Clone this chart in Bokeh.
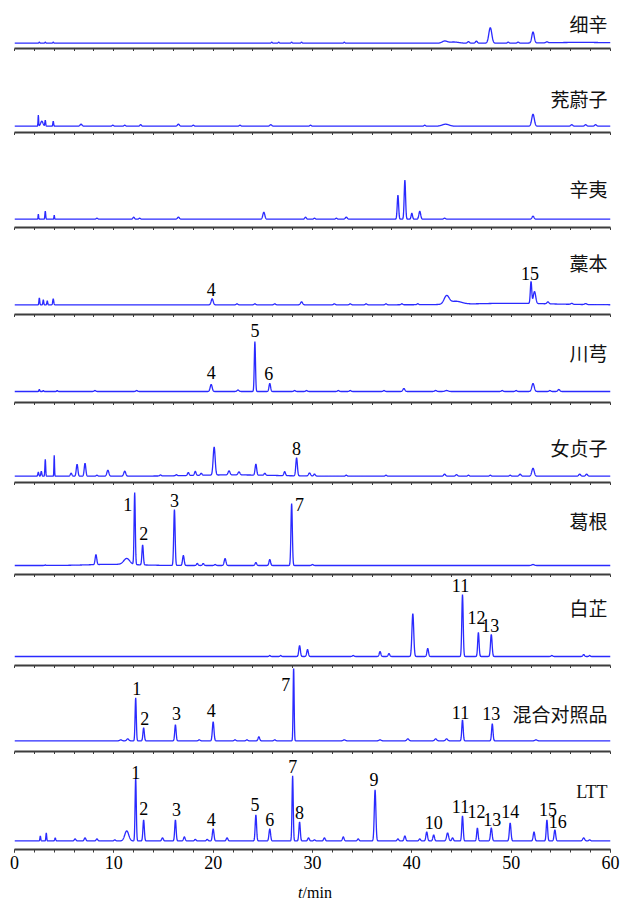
import numpy as np
from bokeh.plotting import figure
from bokeh.layouts import column
from bokeh.models import Range1d, FixedTicker, ColumnDataSource, Label
from bokeh.core.properties import value
from bokeh.embed import file_html
from bokeh.resources import INLINE

# ---------------- data ----------------
names = ["细辛", "茺蔚子", "辛夷", "藁本", "川芎", "女贞子", "葛根", "白芷", "混合对照品", "LTT"]

xixin_rt = [2.5, 3.1, 3.9, 25.9, 26.6, 27.9, 28.9, 33.2, 43.3, 44.2, 45.7, 46.5, 47.9, 49.7, 50.7, 52.2, 53.6, 57.0]
xixin_h = [1, 1, 1, 1, 1, 1, 1, 1, 2, 1.2, 1.5, 2, 15.5, 1, 1, 11, 1, 0.8]
xixin_w = [0.05, 0.05, 0.05, 0.06, 0.06, 0.06, 0.06, 0.06, 0.25, 0.5, 0.1, 0.1, 0.15, 0.08, 0.08, 0.12, 0.1, 3.0]

cwz_rt = [2.4, 2.75, 3.1, 3.9, 6.7, 9.9, 11.1, 12.7, 16.5, 18.0, 22.7, 25.8, 29.8, 41.3, 43.4, 52.2, 56.1, 57.5, 58.5]
cwz_h = [11, 5, 6, 5, 2, 1, 1, 1.5, 2, 1, 1, 1.5, 1, 1, 2, 12, 1.5, 1.5, 1.5]
cwz_w = [0.03, 0.12, 0.04, 0.04, 0.1, 0.08, 0.08, 0.08, 0.1, 0.08, 0.08, 0.1, 0.08, 0.08, 0.35, 0.13, 0.1, 0.1, 0.1]

xinyi_rt = [2.4, 3.1, 4.0, 8.3, 12.0, 12.6, 16.5, 25.1, 29.3, 30.2, 32.4, 33.4, 38.6, 39.3, 40.0, 40.8, 43.3, 52.2]
xinyi_h = [5, 8, 4, 1, 2, 1, 2, 7, 2, 1, 1, 2, 24, 39, 6, 8, 1, 3]
xinyi_w = [0.03, 0.04, 0.03, 0.08, 0.08, 0.08, 0.1, 0.1, 0.08, 0.08, 0.08, 0.1, 0.07, 0.07, 0.07, 0.09, 0.1, 0.1]

gaoben_rt = [2.5, 2.9, 3.3, 3.9, 19.9, 22.4, 24.2, 26.2, 28.9, 32.2, 33.8, 35.4, 37.4, 39.0, 40.6, 43.5, 44.4, 50.0, 52.0, 52.35, 53.7, 56.1, 57.5]
gaoben_h = [7, 5, 4, 6, 6, 1, 1, 1, 3, 1, 1, 1, 1, 1, 1, 8, 3, 1.5, 22, 12, 2, 1, 1]
gaoben_w = [0.04, 0.04, 0.04, 0.05, 0.1, 0.08, 0.08, 0.08, 0.1, 0.08, 0.08, 0.08, 0.08, 0.08, 0.08, 0.25, 0.6, 4.0, 0.07, 0.12, 0.1, 0.1, 0.1]

cx_rt = [2.5, 2.9, 4.3, 8.1, 12.3, 19.8, 22.5, 24.2, 25.7, 28.2, 29.4, 32.6, 33.8, 37.2, 39.2, 42.4, 43.5, 49.1, 50.5, 52.2, 53.9, 54.8]
cx_h = [2, 1, 1, 1, 1, 7, 1.5, 50, 8, 1, 1, 1, 1, 1, 3, 1, 1, 1, 1, 8, 1, 2]
cx_w = [0.04, 0.04, 0.05, 0.08, 0.08, 0.1, 0.1, 0.06, 0.08, 0.08, 0.08, 0.08, 0.08, 0.08, 0.1, 0.1, 0.15, 0.08, 0.08, 0.12, 0.08, 0.1]

nzz_rt = [2.4, 2.7, 3.1, 4.0, 5.7, 6.3, 7.1, 8.3, 9.4, 11.1, 14.7, 16.3, 17.5, 18.2, 18.8, 20.1, 21.6, 22.6, 24.3, 25.2,
          27.2, 28.4, 29.7, 30.2, 33.4, 37.4, 43.3, 44.5, 45.7, 47.9, 49.9, 50.9, 52.2, 56.9, 57.6, 22.0]
nzz_h = [4, 5, 17, 21, 3, 12, 13, 1, 6, 5, 1, 1, 3, 4, 2, 28, 4, 3, 11, 2,
         4, 18, 3, 2, 1, 1, 2, 1.5, 1, 1, 1, 2, 8, 2, 2, 1.3]
nzz_w = [0.05, 0.05, 0.04, 0.03, 0.08, 0.08, 0.08, 0.08, 0.1, 0.1, 0.08, 0.08, 0.08, 0.08, 0.08, 0.1, 0.1, 0.1, 0.08, 0.08,
         0.08, 0.08, 0.1, 0.08, 0.08, 0.08, 0.1, 0.1, 0.08, 0.08, 0.08, 0.1, 0.12, 0.1, 0.1, 4.0]

gg_rt = [3.1, 8.2, 10.0, 11.3, 12.1, 12.9, 16.1, 17.0, 18.4, 19.0, 20.2, 21.2, 24.3, 25.7, 27.9, 30.0, 52.2]
gg_h = [0.5, 10, 1.2, 6, 72, 20, 56, 10, 2, 2, 1, 7, 3, 6, 62, 1, 1]
gg_w = [0.05, 0.08, 2.5, 0.3, 0.06, 0.07, 0.07, 0.08, 0.08, 0.08, 0.08, 0.09, 0.08, 0.08, 0.07, 0.08, 0.12]

bz_rt = [25.7, 26.8, 28.7, 29.5, 34.1, 36.8, 37.7, 40.1, 41.6, 45.1, 46.7, 48.0, 54.1, 57.3, 57.9]
bz_h = [1, 1, 11, 7, 1, 5, 3, 43, 8, 62, 24, 22, 1, 2, 1]
bz_w = [0.06, 0.06, 0.08, 0.08, 0.08, 0.08, 0.08, 0.09, 0.08, 0.07, 0.07, 0.08, 0.08, 0.08, 0.06]

mix_rt = [10.7, 11.4, 12.2, 13.0, 16.2, 18.6, 20.0, 22.2, 23.4, 24.6, 26.2, 28.1, 33.2, 36.8, 39.6, 42.4, 43.5, 45.1, 48.1, 52.5]
mix_h = [1, 2, 43, 13, 16, 1, 19, 1, 1, 4, 1, 74, 1, 1, 2, 2, 2, 21, 17, 1]
mix_w = [0.1, 0.1, 0.06, 0.07, 0.07, 0.08, 0.08, 0.08, 0.08, 0.08, 0.08, 0.05, 0.1, 0.1, 0.1, 0.1, 0.1, 0.07, 0.07, 0.1]

ltt_rt = [2.6, 3.2, 4.1, 6.1, 7.1, 8.3, 10.1, 11.3, 12.2, 13.0, 14.9, 16.2, 17.1, 18.2, 19.4, 20.0, 21.4, 24.3, 25.7, 28.0,
          28.7, 29.6, 30.2, 31.2, 33.1, 34.6, 36.3, 38.6, 39.3, 40.8, 41.5, 42.2, 43.6, 44.1, 45.1, 46.6, 48.0, 49.9, 52.3, 53.6,
          54.4, 57.3, 57.9]
ltt_h = [5, 8, 3, 2, 3, 2, 1, 10, 63, 21, 3, 21, 4, 1.5, 1.5, 12, 3, 26, 12, 65,
         19, 3, 1, 3, 4, 2, 51, 2, 5, 2, 9, 6, 8, 3, 25, 13, 13, 18, 9, 21,
         11, 3, 1]
ltt_w = [0.04, 0.04, 0.05, 0.08, 0.08, 0.08, 0.08, 0.2, 0.06, 0.07, 0.08, 0.07, 0.08, 0.08, 0.08, 0.08, 0.08, 0.07, 0.08, 0.06,
         0.07, 0.08, 0.08, 0.08, 0.08, 0.08, 0.08, 0.08, 0.08, 0.08, 0.08, 0.08, 0.1, 0.08, 0.07, 0.07, 0.08, 0.08, 0.08, 0.07,
         0.08, 0.1, 0.08]

# peak number labels: text, retention time, height above baseline
gaoben_lab = ["4", "15"]
gaoben_lab_t = [19.8, 51.9]
gaoben_lab_y = [15, 31.6]
cx_lab = ["4", "5", "6"]
cx_lab_t = [19.8, 24.2, 25.6]
cx_lab_y = [19, 61, 18]
nzz_lab = ["8"]
nzz_lab_t = [28.4]
nzz_lab_y = [27.7]
gg_lab = ["1", "2", "3", "7"]
gg_lab_t = [11.4, 13.0, 16.1, 28.7]
gg_lab_y = [61, 32, 65, 61]
bz_lab = ["11", "12", "13"]
bz_lab_t = [44.9, 46.5, 47.9]
bz_lab_y = [71, 39, 31]
mix_lab = ["1", "2", "3", "4", "7", "11", "13"]
mix_lab_t = [12.3, 13.1, 16.3, 19.8, 27.3, 44.9, 48.0]
mix_lab_y = [52, 22, 27, 30, 56, 28, 27]
ltt_lab = ["1", "2", "3", "4", "5", "6", "7", "8", "9", "10", "11", "12", "13", "14", "15", "16"]
ltt_lab_t = [12.2, 13.0, 16.3, 19.8, 24.2, 25.7, 28.0, 28.7, 36.2, 42.2, 44.9, 46.5, 48.1, 49.9, 53.7, 54.7]
ltt_lab_y = [68, 32, 31, 21, 36, 21, 74, 28, 61, 18, 34, 29, 21, 29, 31, 19]

major_ticks = [0, 10, 20, 30, 40, 50, 60]
minor_ticks = list(range(0, 61, 2))
x_title_italic = "t"
x_title_rest = "/min"

# ---------------- assembly ----------------
peaks = [
    (xixin_rt, xixin_h, xixin_w, [], [], []),
    (cwz_rt, cwz_h, cwz_w, [], [], []),
    (xinyi_rt, xinyi_h, xinyi_w, [], [], []),
    (gaoben_rt, gaoben_h, gaoben_w, gaoben_lab, gaoben_lab_t, gaoben_lab_y),
    (cx_rt, cx_h, cx_w, cx_lab, cx_lab_t, cx_lab_y),
    (nzz_rt, nzz_h, nzz_w, nzz_lab, nzz_lab_t, nzz_lab_y),
    (gg_rt, gg_h, gg_w, gg_lab, gg_lab_t, gg_lab_y),
    (bz_rt, bz_h, bz_w, bz_lab, bz_lab_t, bz_lab_y),
    (mix_rt, mix_h, mix_w, mix_lab, mix_lab_t, mix_lab_y),
    (ltt_rt, ltt_h, ltt_w, ltt_lab, ltt_lab_t, ltt_lab_y),
]

# layout (pixels): axis line positions, baseline offsets above axis, name label heights
axis_y = [48, 132, 227, 314, 402, 482, 574, 665, 751, 849]
gaps = [5.3, 6.3, 8.3, 9.7, 11.0, 6.3, 9.0, 9.0, 10.7, 8.6]
name_y = [19.4, 27.4, 30.7, 42.3, 39.0, 28.7, 45.0, 49.0, 27.3, 48.7]
TOP, TICK, PAGE_H = 0, 3, 900
LAST_AXIS_AREA = 34
W = 621
LB, RB = 14, 11

t = np.linspace(0, 60, 3001)
x_range = Range1d(0, 60)
BLUE = "#2a2aff"
AXC = "#3c3c3c"


def base_fig(height, y_range, bottom):
    p = figure(width=W, height=height, x_range=x_range, y_range=y_range,
               output_backend="svg", toolbar_location=None, y_axis_location=None,
               min_border_left=LB, min_border_right=RB, min_border_top=0, min_border_bottom=bottom)
    p.outline_line_color = None
    p.xgrid.visible = False
    p.ygrid.visible = False
    p.background_fill_color = "white"
    p.border_fill_color = "white"
    return p


figs = []
for i, (rt, hh, ww, lt, lx, ly) in enumerate(peaks):
    last = i == len(peaks) - 1
    frame_top = TOP if i == 0 else axis_y[i - 1] + TICK
    frame_h = axis_y[i] - frame_top
    bottom = LAST_AXIS_AREA if last else TICK
    g = gaps[i]
    p = base_fig(frame_h + bottom, Range1d(-g, frame_h - g), bottom)

    y = np.zeros_like(t)
    for c, h, w in zip(rt, hh, ww):
        y += h * np.exp(-0.5 * ((t - c) / w) ** 2)
    p.line(t, y, line_color=BLUE, line_width=1.3)

    if lt:
        src = ColumnDataSource(dict(x=lx, y=ly, text=lt))
        p.text(x="x", y="y", text="text", source=src, text_align="center", text_baseline="middle",
               text_font=value("Liberation Serif"), text_font_size="18px", text_color="black")

    is_latin = names[i] == "LTT"
    p.add_layout(Label(x=59.7, y=name_y[i], text=names[i], text_align="right", text_baseline="middle",
                       text_font="Liberation Serif" if is_latin else "Noto Sans CJK SC",
                       text_font_size="18px" if is_latin else "19px", text_color="#111111"))

    ax = p.xaxis[0]
    if last:
        ax.ticker = FixedTicker(ticks=major_ticks, minor_ticks=minor_ticks)
    else:
        ax.ticker = FixedTicker(ticks=[], minor_ticks=minor_ticks)
    ax.axis_line_color = AXC
    ax.axis_line_width = 1.8
    ax.major_tick_line_color = AXC
    ax.minor_tick_line_color = AXC
    ax.major_tick_out = TICK
    ax.minor_tick_out = TICK
    ax.major_tick_in = 0
    ax.minor_tick_in = 0
    ax.major_tick_line_width = 1
    ax.minor_tick_line_width = 1
    ax.major_label_text_font = "Liberation Serif"
    ax.major_label_text_font_size = "18px"
    ax.major_label_text_color = "black"
    ax.major_label_standoff = 3
    figs.append(p)

# x-axis title row
title_h = PAGE_H - (axis_y[-1] + LAST_AXIS_AREA)
tp = base_fig(title_h, Range1d(0, 1), 0)
tp.xaxis.visible = False
tsrc = ColumnDataSource(dict(x=[29.0], y=[0.5], text=[x_title_italic]))
tp.text(x="x", y="y", text="text", source=tsrc, text_align="right", text_baseline="middle",
        text_font=value("Liberation Serif"), text_font_style="italic", text_font_size="16px", text_color="black")
rsrc = ColumnDataSource(dict(x=[29.0], y=[0.5], text=[x_title_rest]))
tp.text(x="x", y="y", text="text", source=rsrc, text_align="left", text_baseline="middle",
        text_font=value("Liberation Serif"), text_font_size="16px", text_color="black")
figs.append(tp)

layout = column(*figs, spacing=0)
open("out.html", "w").write(file_html(layout, INLINE))
